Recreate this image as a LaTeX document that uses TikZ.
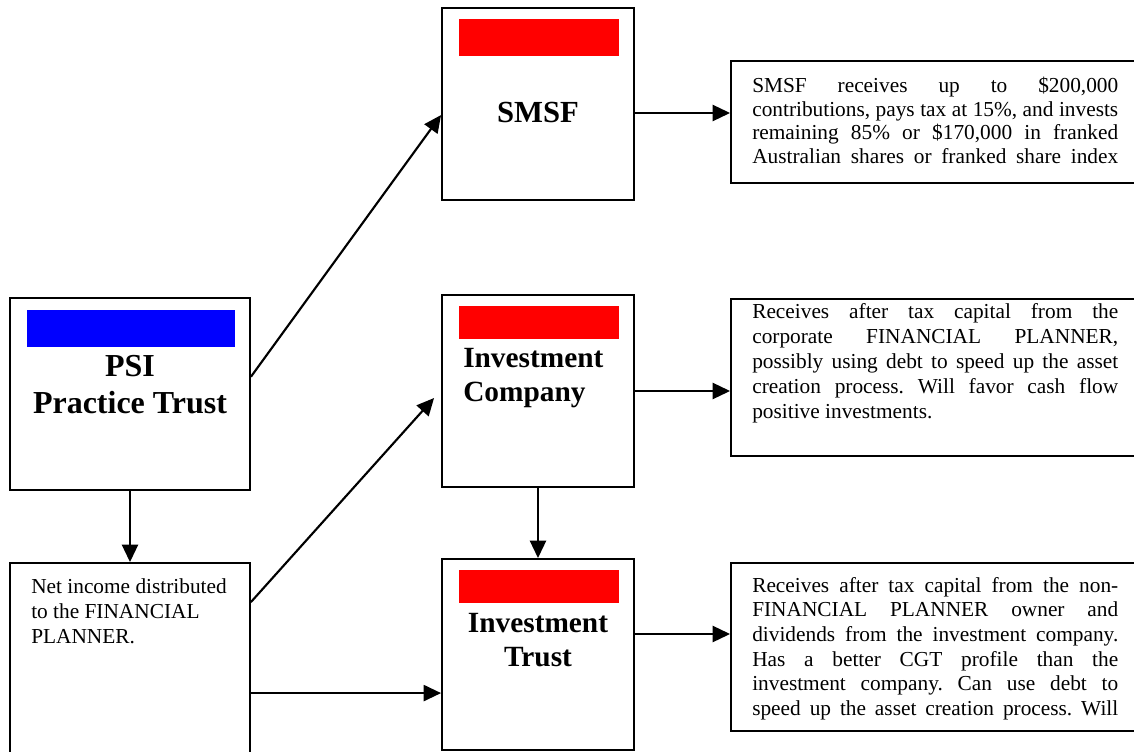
\documentclass[tikz,border=0pt]{standalone}
\usepackage{fontspec}
\setmainfont{Liberation Serif}
\usetikzlibrary{arrows.meta,calc}
\newcommand{\jline}[1]{\makebox[\linewidth][s]{#1}}
\frenchspacing
\begin{document}
\begin{tikzpicture}[x=0.75pt,y=-0.75pt,
  box/.style={draw=black,line width=1.4pt,fill=white,inner sep=0pt,
              minimum width=#1},
  bar/.style={fill=#1,draw=none,inner sep=0pt},
  label/.style={inner sep=0pt,font=\bfseries},
  body/.style={inner sep=0pt,anchor=base west},
  link/.style={line width=1.6pt,-{Triangle[length=13pt,width=12pt]}}]
\useasboundingbox (0,0) rectangle (1134,752);
\clip (0,0) rectangle (1134,752);

% entity boxes
\node[box=180pt,minimum height=144pt] (psi) at (130,394) {};
\node[box=144pt,minimum height=144pt] (smsf) at (538,104) {};
\node[box=144pt,minimum height=144pt] (ic) at (538,391) {};
\node[box=144pt,minimum height=143.25pt] (it) at (538,654.5) {};
\node[box=180pt,minimum height=162.75pt] (net) at (130,671.5) {};

% explanation boxes
\node[box=314.25pt,minimum height=91.5pt] (note1) at (940.5,122) {};
\node[box=314.25pt,minimum height=117.75pt] (note2) at (940.5,377.5) {};
\node[box=314.25pt,minimum height=126pt] (note3) at (940.5,647) {};

% colour bars
\node[bar=blue,minimum width=156pt,minimum height=27.75pt] (psibar) at (131,328.5) {};
\node[bar=red,minimum width=120pt,minimum height=27.75pt] (smsfbar) at (539,37.5) {};
\node[bar=red,minimum width=120pt,minimum height=24.75pt] (icbar) at (539,322.5) {};
\node[bar=red,minimum width=120pt,minimum height=24.75pt] (itbar) at (539,586.5) {};

% titles
\node[label,anchor=base] (psiname) at (130,376)
  {\parbox[t]{180pt}{\centering\fontsize{24}{27.75}\selectfont\bfseries PSI\\Practice Trust}};
\node[label,anchor=base] (smsfname) at (538,123)
  {\fontsize{23}{27}\selectfont SMSF};
\node[label,anchor=base west] (icname) at (463,367)
  {\parbox[t]{130pt}{\fontsize{22}{25.5}\selectfont\bfseries Investment\\Company}};
\node[label,anchor=base] (itname) at (538,632)
  {\parbox[t]{140pt}{\centering\fontsize{22}{25.5}\selectfont\bfseries Investment\\Trust}};

% body texts
\node[body] (nettext) at (31,593)
  {\parbox[t]{170pt}{\fontsize{16}{18.75}\selectfont Net income distributed\\to the FINANCIAL\\PLANNER.}};
\node[body] (note1text) at (752,93)
  {\parbox[t]{274.5pt}{\fontsize{16}{17.6}\selectfont
   \jline{SMSF receives up to \$200,000}\\
   \jline{contributions, pays tax at 15\%, and invests}\\
   \jline{remaining 85\% or \$170,000 in franked}\\
   \jline{Australian shares or franked share index}}};
\node[body] (note2text) at (752,318)
  {\parbox[t]{274.5pt}{\fontsize{16}{18.9}\selectfont
   \jline{Receives after tax capital from the}\\
   \jline{corporate FINANCIAL PLANNER,}\\
   \jline{possibly using debt to speed up the asset}\\
   \jline{creation process. Will favor cash flow}\\
   positive investments.}};
\node[body] (note3text) at (752,592)
  {\parbox[t]{274.5pt}{\fontsize{16}{18.5}\selectfont
   \jline{Receives after tax capital from the non-}\\
   \jline{FINANCIAL PLANNER owner and}\\
   \jline{dividends from the investment company.}\\
   \jline{Has a better CGT profile than the}\\
   \jline{investment company. Can use debt to}\\
   \jline{speed up the asset creation process. Will}}};

% connectors
\coordinate (psiout) at ($(psi.north east)!0.411!(psi.south east)$);
\coordinate (smsfin) at ($(smsf.north west)!0.557!(smsf.south west)$);
\draw[link] (psiout) -- (smsfin);
\draw[link] (psi.south) -- (net.north);
\coordinate (netup) at ($(net.north east)+(0,40)$);
\coordinate (icin) at ($(ic.west)+(-7,7)$);
\draw[link] (netup) -- (icin);
\coordinate (netright) at ($(net.north east)+(0,131)$);
\draw[link] (netright) -- (netright -| it.west);
\draw[link] (ic.south) -- (it.north);
\coordinate (smsfout) at ($(smsf.east)+(0,9)$);
\draw[link] (smsfout) -- (smsfout -| note1.west);
\draw[link] (ic.east) -- (ic.east -| note2.west);
\coordinate (itout) at ($(it.east)+(0,-20.5)$);
\draw[link] (itout) -- (itout -| note3.west);
\end{tikzpicture}
\end{document}
